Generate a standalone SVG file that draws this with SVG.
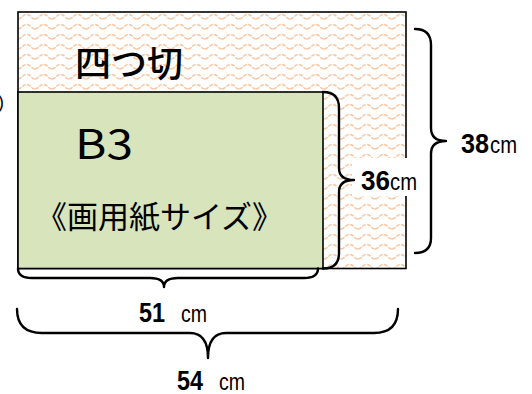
<svg xmlns="http://www.w3.org/2000/svg" width="532" height="394" viewBox="0 0 532 394">
<style>
.frame{stroke:#000;stroke-width:1.6}
.brace{fill:none;stroke:#000;stroke-width:2.4;stroke-linecap:round;stroke-linejoin:round}
.num{font-family:"Liberation Sans",Arial,sans-serif;font-weight:bold;font-size:28px;fill:#000}
.unit{font-family:"Liberation Sans",Arial,sans-serif;font-size:24px;fill:#000}
.jp{font-family:"Noto Sans CJK JP","Noto Sans",sans-serif;fill:#000}
</style>
<defs>
<pattern id="wave" width="17" height="10" patternUnits="userSpaceOnUse" x="18" y="12">
<rect width="17" height="10" fill="#fff"/>
<path d="M0,7 C4,7 4,2.5 8.5,2.5 C13,2.5 13,7 17,7" fill="none" stroke="#f8c6a0" stroke-width="1.5" stroke-dasharray="4 1.2"/>
</pattern>
</defs>
<text x="-2" y="108" font-family="Liberation Sans, sans-serif" font-size="18" fill="#000">)</text>
<g id="yotsugiri">
<rect class="frame" x="18" y="12" width="388" height="256.5" fill="url(#wave)"/>
<text class="jp" x="75" y="77" font-size="36" font-weight="500">四つ切</text>
</g>
<g id="b3">
<rect class="frame" x="18" y="92" width="305" height="176.5" fill="#d7e4bc"/>
<text class="jp" x="75" y="159" font-size="41" textLength="58" lengthAdjust="spacingAndGlyphs">B3</text>
<text class="jp" x="36" y="228" font-size="31">《画用紙サイズ》</text>
</g>
<g id="connectors">
<rect x="352" y="158" width="68" height="38" fill="#fff"/>
<path class="brace" d="M323,92 Q339,92 339,108 L339,168 Q339,180 354,180 Q339,180 339,192 L339,253 Q339,268.5 323,268.5"/>
<path class="brace" d="M415,29 Q431,29 431,45 L431,128 Q431,141 446,141 Q431,141 431,154 L431,238 Q431,253 415,253"/>
<path class="brace" d="M18,268.5 Q18,278 32,278 L150,278 Q164,278 164,287 Q164,278 178,278 L304,278 Q318,278 318,268.5"/>
<path class="brace" d="M17,309 Q17,333 42,333 L190,333 Q208,333 208,358 Q208,333 226,333 L374,333 Q398,333 398,309"/>
</g>
<g id="label-36">
<text class="num" x="361" y="190" textLength="29" lengthAdjust="spacingAndGlyphs">36</text>
<text class="unit" x="390" y="190" textLength="27" lengthAdjust="spacingAndGlyphs">cm</text>
</g>
<g id="label-38">
<text class="num" x="461" y="153" textLength="28" lengthAdjust="spacingAndGlyphs">38</text>
<text class="unit" x="490" y="153" textLength="27" lengthAdjust="spacingAndGlyphs">cm</text>
</g>
<g id="label-51">
<text class="num" x="139" y="322" textLength="26" lengthAdjust="spacingAndGlyphs">51</text>
<text class="unit" x="181" y="322" textLength="26" lengthAdjust="spacingAndGlyphs">cm</text>
</g>
<g id="label-54">
<text class="num" x="177" y="390" textLength="26" lengthAdjust="spacingAndGlyphs">54</text>
<text class="unit" x="219" y="390" textLength="26" lengthAdjust="spacingAndGlyphs">cm</text>
</g>
</svg>
